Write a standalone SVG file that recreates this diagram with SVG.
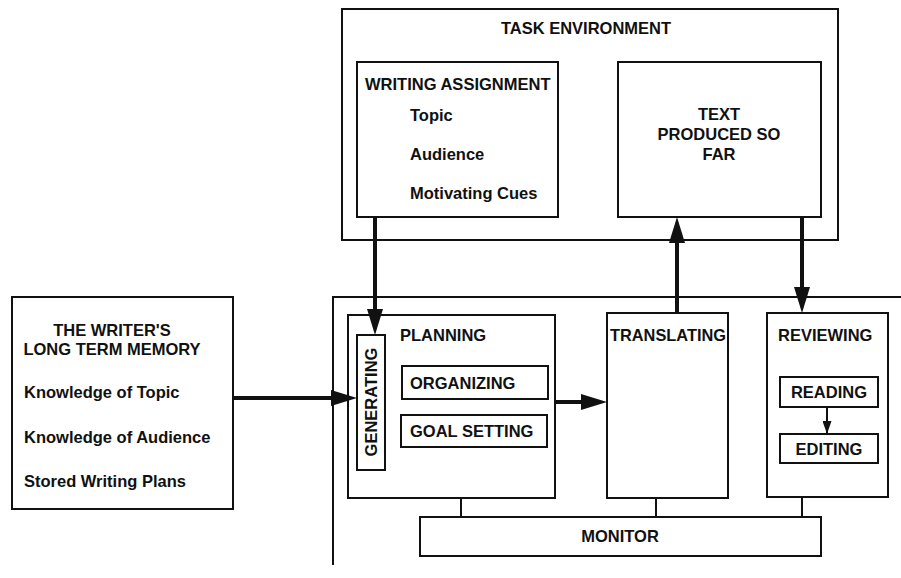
<svg xmlns="http://www.w3.org/2000/svg" width="901" height="578" viewBox="0 0 901 578">
<defs>
<style>
.box{fill:none;stroke:#111;stroke-width:2}
.t{font-family:"Liberation Sans",Arial,sans-serif;font-size:16.5px;font-weight:bold;fill:#111}
.c{text-anchor:middle}
.line{stroke:#111;stroke-width:4;fill:none}
.thin{stroke:#111;stroke-width:2;fill:none}
</style>
<marker id="ah" markerWidth="26" markerHeight="16" refX="16" refY="8" orient="auto" markerUnits="userSpaceOnUse"><path d="M0,0 L26,8 L0,16 Z" fill="#111"/></marker>
<marker id="ahs" markerWidth="13" markerHeight="9" refX="13" refY="4.5" orient="auto" markerUnits="userSpaceOnUse"><path d="M0,0 L13,4.5 L0,9 Z" fill="#111"/></marker>
</defs>
<rect width="901" height="578" fill="#fff"/>

<g id="task-environment">
<rect class="box" x="342" y="9" width="496" height="231"/>
<text class="t c" x="586" y="34">TASK ENVIRONMENT</text>
</g>
<g id="writing-assignment">
<rect class="box" x="357" y="62" width="201" height="155"/>
<text class="t" x="365" y="90">WRITING ASSIGNMENT</text>
<text class="t" x="410" y="121">Topic</text>
<text class="t" x="410" y="160">Audience</text>
<text class="t" x="410" y="199">Motivating Cues</text>
</g>
<g id="text-produced">
<rect class="box" x="618" y="62" width="203" height="155"/>
<text class="t c" x="719" y="120">TEXT</text>
<text class="t c" x="719" y="140">PRODUCED SO</text>
<text class="t c" x="719" y="160">FAR</text>
</g>

<g id="long-term-memory">
<rect class="box" x="12" y="297" width="221" height="212"/>
<text class="t c" x="112" y="336">THE WRITER'S</text>
<text class="t c" x="112" y="355">LONG TERM MEMORY</text>
<text class="t" x="24" y="398">Knowledge of Topic</text>
<text class="t" x="24" y="443">Knowledge of Audience</text>
<text class="t" x="24" y="487">Stored Writing Plans</text>
</g>

<g id="writing-processes">
<path class="box" d="M333,565 V297 H901"/>
</g>
<g id="planning">
<rect class="box" x="348" y="315" width="207" height="183"/>
<text class="t" x="400" y="341">PLANNING</text>
</g>
<g id="generating">
<rect class="box" x="357" y="335" width="28" height="135"/>
<text class="t c" transform="translate(377,402) rotate(-90)">GENERATING</text>
</g>
<g id="organizing">
<rect class="box" x="402" y="366" width="146" height="33"/>
<text class="t" x="410" y="389">ORGANIZING</text>
</g>
<g id="goal-setting">
<rect class="box" x="401" y="415" width="146" height="32"/>
<text class="t" x="410" y="437">GOAL SETTING</text>
</g>
<g id="translating">
<rect class="box" x="607" y="313" width="121" height="185"/>
<text class="t" x="610" y="341" textLength="116" lengthAdjust="spacingAndGlyphs">TRANSLATING</text>
</g>
<g id="reviewing">
<rect class="box" x="767" y="313" width="121" height="184"/>
<text class="t" x="778" y="341">REVIEWING</text>
</g>
<g id="reading">
<rect class="box" x="780" y="377" width="98" height="30"/>
<text class="t c" x="829" y="398">READING</text>
</g>
<g id="editing">
<rect class="box" x="780" y="434" width="98" height="29"/>
<text class="t c" x="829" y="455">EDITING</text>
</g>
<g id="monitor">
<rect class="box" x="420" y="517" width="401" height="39"/>
<text class="t c" x="620" y="542">MONITOR</text>
</g>

<g id="connectors">
<path class="line" d="M375,217 V325" marker-end="url(#ah)"/>
<path class="line" d="M233,398 H347" marker-end="url(#ah)"/>
<path class="line" d="M555,402 H597" marker-end="url(#ah)"/>
<path class="line" d="M677,313 V227" marker-end="url(#ah)"/>
<path class="line" d="M802,217 V303" marker-end="url(#ah)"/>
<path class="thin" d="M827,407 V434" marker-end="url(#ahs)"/>
<path class="thin" d="M461,498 V517 M656,498 V517 M802,497 V517"/>
</g>
</svg>
